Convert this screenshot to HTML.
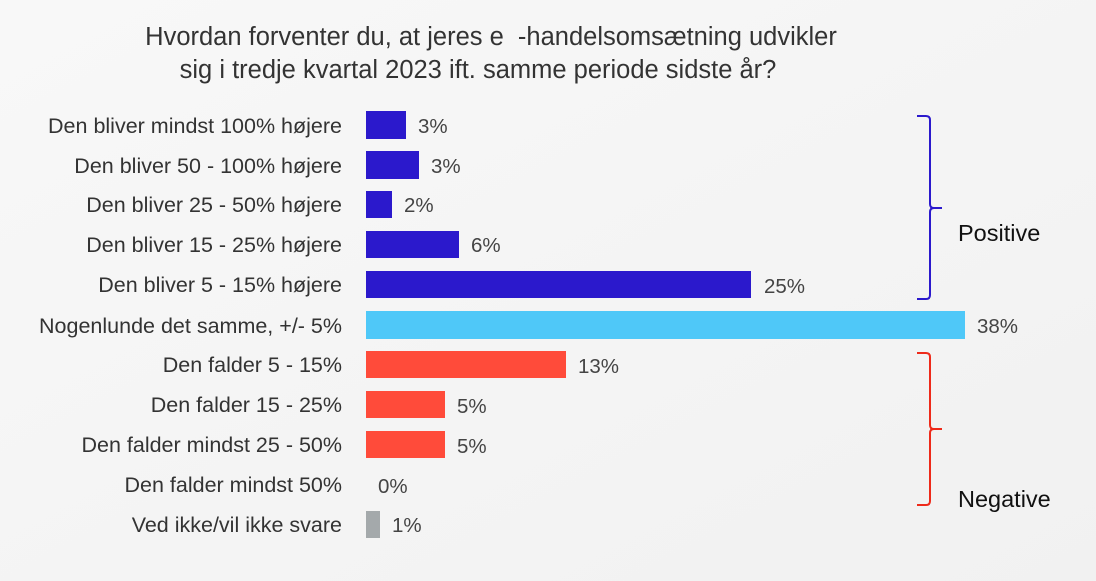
<!DOCTYPE html>
<html><head><meta charset="utf-8"><style>
html,body{margin:0;padding:0;background:#f6f6f6;}
svg{display:block;font-family:"Liberation Sans",sans-serif;}
</style></head><body>
<svg width="1096" height="581" viewBox="0 0 1096 581">
<defs><linearGradient id="bg" x1="0" y1="0" x2="1" y2="1"><stop offset="0" stop-color="#f8f8f8"/><stop offset="1" stop-color="#f1f1f1"/></linearGradient></defs>
<rect width="1096" height="581" fill="url(#bg)"/>
<g fill="#333" font-size="25.5" text-anchor="middle">
<text x="491" y="45">Hvordan forventer du, at jeres e&#160;&#160;-handelsomsætning udvikler</text>
<text x="478" y="78">sig i tredje kvartal 2023 ift. samme periode sidste år?</text>
</g>
<g fill="#333" font-size="21.5" text-anchor="end">
<text x="342" y="133">Den bliver mindst 100% højere</text>
<text x="342" y="173">Den bliver 50 - 100% højere</text>
<text x="342" y="212">Den bliver 25 - 50% højere</text>
<text x="342" y="252">Den bliver 15 - 25% højere</text>
<text x="342" y="292">Den bliver 5 - 15% højere</text>
<text x="342" y="333">Nogenlunde det samme, +/- 5%</text>
<text x="342" y="372">Den falder 5 - 15%</text>
<text x="342" y="412">Den falder 15 - 25%</text>
<text x="342" y="452">Den falder mindst 25 - 50%</text>
<text x="342" y="492">Den falder mindst 50%</text>
<text x="342" y="532">Ved ikke/vil ikke svare</text>
</g>
<rect x="366" y="111" width="40" height="28" fill="#2b19cc"/>
<rect x="366" y="151" width="53" height="28" fill="#2b19cc"/>
<rect x="366" y="191" width="26" height="27" fill="#2b19cc"/>
<rect x="366" y="231" width="93" height="27" fill="#2b19cc"/>
<rect x="366" y="271" width="385" height="27" fill="#2b19cc"/>
<rect x="366" y="311" width="599" height="28" fill="#4fc8f8"/>
<rect x="366" y="351" width="200" height="27" fill="#ff4b3a"/>
<rect x="366" y="391" width="79" height="27" fill="#ff4b3a"/>
<rect x="366" y="431" width="79" height="27" fill="#ff4b3a"/>
<rect x="366" y="511" width="14" height="27" fill="#a4a9ab"/>
<g fill="#444" font-size="20.5">
<text x="418" y="133">3%</text>
<text x="431" y="173">3%</text>
<text x="404" y="212">2%</text>
<text x="471" y="252">6%</text>
<text x="764" y="293">25%</text>
<text x="977" y="333">38%</text>
<text x="578" y="373">13%</text>
<text x="457" y="413">5%</text>
<text x="457" y="453">5%</text>
<text x="378" y="493">0%</text>
<text x="392" y="532">1%</text>
</g>
<g fill="none" stroke-width="2">
<path d="M917 116 H926 Q930 116 930 120 V204 Q930 208 934 208 H942 M934 208 Q930 208 930 212 V295 Q930 299 926 299 H917" stroke="#2b19cc"/>
<path d="M917 353 H926 Q930 353 930 357 V425 Q930 429 934 429 H942 M934 429 Q930 429 930 433 V501 Q930 505 926 505 H917" stroke="#ee2a1a"/>
</g>
<g fill="#111" font-size="23.5">
<text x="958" y="241">Positive</text>
<text x="958" y="507">Negative</text>
</g>
</svg>
</body></html>
